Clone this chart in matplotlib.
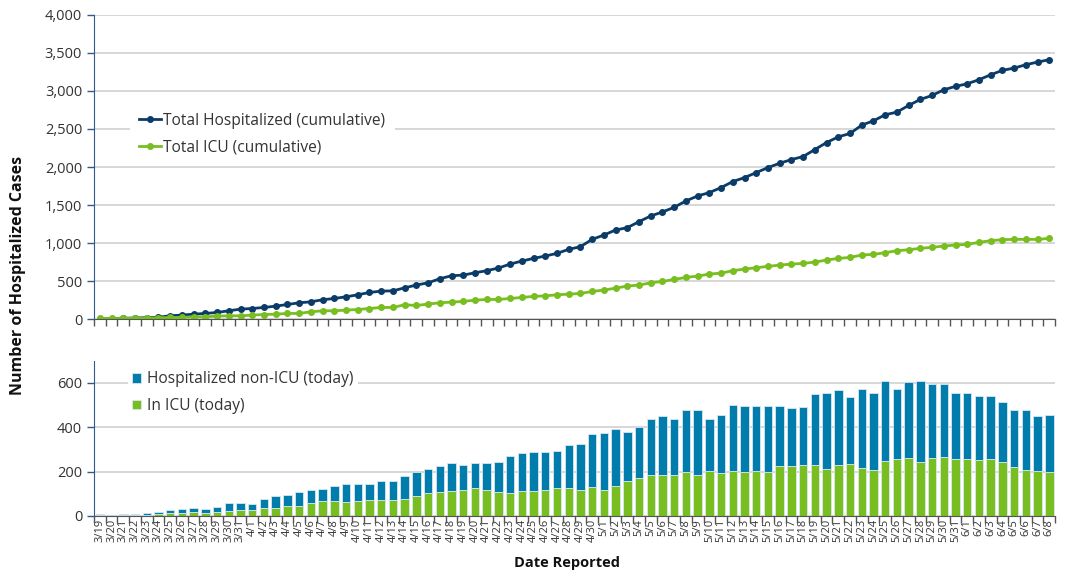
import numpy as np
import matplotlib
matplotlib.use('Agg')
from matplotlib import pyplot as plt

plt.rcParams['font.family'] = ['Open Sans', 'DejaVu Sans']

# dates 3/19 .. 6/8
dates = ([f'3/{d}' for d in range(19, 32)] + [f'4/{d}' for d in range(1, 31)]
         + [f'5/{d}' for d in range(1, 32)] + [f'6/{d}' for d in range(1, 9)])

# cumulative totals (upper chart)
total_hosp = [5, 8, 12, 15, 20, 25, 45, 53, 66, 75, 88, 110, 132, 140,
              154, 171, 193, 215, 228, 255, 272, 294, 320, 351, 369, 372,
              412, 448, 478, 531, 571, 579, 610, 637, 672, 724, 764, 799,
              830, 865, 918, 953, 1049, 1106, 1172, 1203, 1282, 1357, 1409,
              1471, 1554, 1620, 1664, 1730, 1809, 1861, 1927, 1993, 2050,
              2098, 2138, 2230, 2322, 2397, 2441, 2551, 2608, 2687, 2722,
              2810, 2889, 2941, 3016, 3060, 3095, 3148, 3213, 3271, 3301,
              3345, 3380, 3411]
total_icu = [9, 9, 9, 13, 13, 18, 22, 22, 31, 31, 40, 44, 44, 53, 61, 66,
             75, 75, 97, 110, 110, 119, 127, 140, 154, 154, 189, 180, 198,
             215, 224, 233, 250, 259, 259, 272, 285, 299, 307, 320, 329, 338,
             364, 382, 408, 435, 448, 478, 496, 522, 549, 566, 593, 605, 637,
             659, 676, 694, 711, 724, 733, 751, 777, 799, 812, 843, 852, 874,
             900, 913, 931, 944, 961, 975, 983, 1010, 1032, 1045, 1049, 1049,
             1049, 1062]

# daily census (lower chart): total hospitalized today and ICU today
hosp_today = [9, 5, 8, 8, 14, 17, 27, 32, 35, 31, 40, 58, 58, 53, 76, 89,
              96, 108, 115, 122, 137, 145, 145, 145, 157, 157, 179, 200, 214,
              224, 241, 229, 241, 241, 244, 272, 282, 290, 290, 293, 318, 325,
              369, 374, 392, 377, 400, 438, 450, 438, 479, 479, 438, 454, 500,
              495, 498, 498, 495, 489, 492, 548, 553, 568, 538, 573, 556, 609,
              571, 602, 609, 594, 594, 556, 553, 541, 541, 515, 480, 477, 450,
              455]
icu_today = [3, 2, 5, 5, 6, 9, 12, 12, 17, 12, 17, 23, 27, 27, 38, 38, 43,
             46, 58, 66, 66, 61, 66, 70, 73, 73, 78, 92, 104, 108, 111, 119,
             127, 119, 108, 104, 111, 111, 115, 124, 124, 119, 130, 119, 137,
             157, 169, 183, 183, 183, 200, 183, 203, 195, 202, 200, 205, 200,
             227, 224, 232, 232, 214, 232, 236, 217, 209, 250, 259, 262, 242,
             262, 265, 259, 255, 252, 255, 245, 220, 209, 202, 198]

non_icu_today = np.array(hosp_today) - np.array(icu_today)

navy = '#0b3c68'
green = '#78be21'
bar_blue = '#007cad'
grid_c = '#d4d4d4'
spine_c = '#2f5b8a'
text_c = '#333333'

x = np.arange(len(dates))

fig = plt.figure(figsize=(10.68, 5.73), dpi=100)
ax1 = fig.add_axes([0.088, 0.443, 0.900, 0.531])
ax2 = fig.add_axes([0.088, 0.0995, 0.900, 0.271])

for ax in (ax1, ax2):
    ax.set_xlim(-0.5, len(dates) - 0.5)
    ax.spines['top'].set_visible(False)
    ax.spines['right'].set_visible(False)
    ax.spines['left'].set_color(spine_c)
    ax.spines['bottom'].set_color('#555555')
    ax.yaxis.grid(True, color=grid_c, linewidth=1.3)
    ax.set_axisbelow(True)
    ax.tick_params(axis='y', colors=spine_c, labelcolor=text_c, labelsize=10.5,
                   length=5, width=1)
    ax.set_xticks(x)
    ax.set_xticks(np.arange(-0.5, len(dates), 1), minor=True)
    ax.tick_params(axis='x', which='major', length=0)
    ax.tick_params(axis='x', which='minor', length=5, width=1, colors='#555555')

# upper chart
ax1.plot(x, total_hosp, color=navy, lw=2, marker='o', ms=4,
         label='Total Hospitalized (cumulative)')
ax1.plot(x, total_icu, color=green, lw=2, marker='o', ms=4,
         label='Total ICU (cumulative)')
ax1.set_ylim(0, 4000)
ax1.set_yticks(np.arange(0, 4001, 500))
ax1.yaxis.set_major_formatter(matplotlib.ticker.FuncFormatter(lambda v, p: f'{int(v):,}'))
ax1.set_xticklabels([])
leg1 = ax1.legend(loc='center left', bbox_to_anchor=(0.0375, 0.609), frameon=True,
                  facecolor='white', edgecolor='none', framealpha=1, fancybox=False,
                  fontsize=11.2, handlelength=1.4, handletextpad=0.15,
                  borderaxespad=0, borderpad=0.6, labelspacing=0.67)
for t in leg1.get_texts():
    t.set_color(text_c)

# lower chart
ax2.bar(x, icu_today, width=0.72, color=green, edgecolor='#d8e8f0', linewidth=0.6,
        label='In ICU (today)')
ax2.bar(x, non_icu_today, width=0.72, bottom=icu_today, color=bar_blue,
        edgecolor='#d8e8f0', linewidth=0.6, label='Hospitalized non-ICU (today)')
ax2.set_ylim(0, 700)
ax2.set_yticks([0, 200, 400, 600])
ax2.set_xticklabels(dates, rotation=90, fontsize=8, color=text_c)
ax2.tick_params(axis='x', which='major', pad=2)
h, l = ax2.get_legend_handles_labels()
leg2 = ax2.legend(h[::-1], l[::-1], loc='center left', bbox_to_anchor=(0.035, 0.794),
                  frameon=True, facecolor='white', edgecolor='none', framealpha=1,
                  fancybox=False, fontsize=11.2, handlelength=0.55, handleheight=0.55,
                  handletextpad=0.4, borderaxespad=0, borderpad=0.3, labelspacing=0.67)
for t in leg2.get_texts():
    t.set_color(text_c)

fig.text(0.017, 0.52, 'Number of Hospitalized Cases', rotation=90, ha='center',
         va='center', fontsize=11.5, fontweight='bold', color='#111111')
fig.text(0.531, 0.018, 'Date Reported', ha='center', va='center', fontsize=10.5,
         fontweight='bold', color='#111111')

fig.savefig('out.png', dpi=100)
